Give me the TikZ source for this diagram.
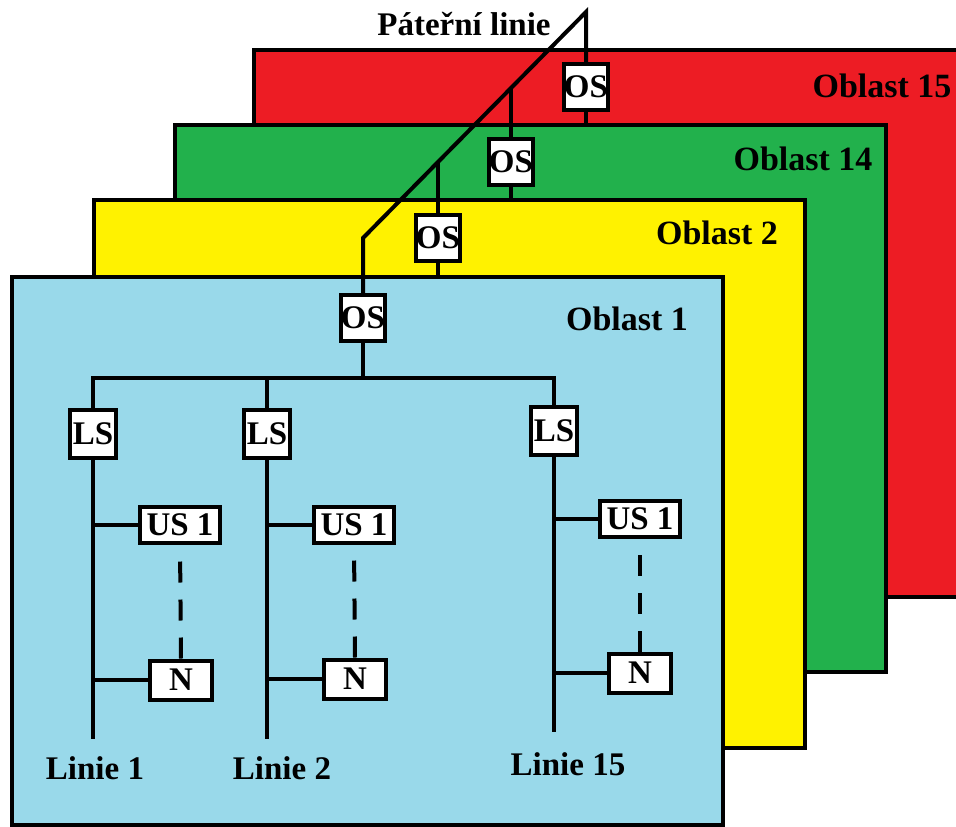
\documentclass[tikz,border=0pt]{standalone}
\usepackage{fontspec}
\setmainfont{Liberation Serif}
\definecolor{ared}{RGB}{237,28,36}
\definecolor{agreen}{RGB}{34,177,76}
\definecolor{ayellow}{RGB}{255,242,0}
\definecolor{ablue}{RGB}{153,217,234}
\begin{document}
\begin{tikzpicture}[x=1pt,y=-1pt,line width=4pt,line join=miter,
  box/.style={draw,fill=white,inner sep=0pt,font=\fontsize{33}{36}\selectfont\bfseries},
  os/.style={box,minimum width=44pt,minimum height=46pt},
  ls/.style={box,minimum width=46pt,minimum height=48pt},
  us/.style={box,minimum width=80pt,minimum height=36pt},
  nn/.style={box,minimum width=62pt,minimum height=39pt},
  lbl/.style={font=\fontsize{33}{36}\selectfont\bfseries,inner sep=0pt,anchor=base},
  olbl/.style={font=\fontsize{34}{36}\selectfont\bfseries,inner sep=0pt,anchor=base},
  area/.style={draw,line width=4pt},
  dashline/.style={dash pattern=on 21pt off 17pt}]
\useasboundingbox (0,0) rectangle (956,827);
\clip (0,0) rectangle (956,827);
\fill[white] (0,0) rectangle (956,827);
% areas
\path[area,fill=ared] (254,50) rectangle (990,597);
\path[area,fill=agreen] (175,125) rectangle (886,672);
\path[area,fill=ayellow] (94,200) rectangle (805,748);
\path[area,fill=ablue] (12,277) rectangle (723,825);
\coordinate (gtop) at (175,125);
\coordinate (ytop) at (94,200);
\coordinate (btop) at (12,277);
% area labels
\node[olbl] (o15) at (882,97) {Oblast 15};
\node[olbl] (o14) at (803,170) {Oblast 14};
\node[olbl] (o2) at (717,244) {Oblast 2};
\node[olbl] (o1) at (627,330) {Oblast 1};
\node[lbl] (pat) at (464,35) {Páteřní linie};
% area couplers
\node[os] (osR) at (586,87) {OS};
\node[os] (osG) at (511,162) {OS};
\node[os] (osY) at (438,238) {OS};
\node[os] (osB) at (363,318) {OS};
% backbone
\coordinate (top) at (586,12);
\coordinate (bend) at (363,238);
\coordinate (j14) at (511,88);
\coordinate (j2) at (438,162);
\draw (osB.north) -- (bend) -- (top) -- (osR.north);
\draw (j14) -- (osG.north);
\draw (j2) -- (osY.north);
\draw (osR.south) -- (osR.south |- gtop);
\draw (osG.south) -- (osG.south |- ytop);
\draw (osY.south) -- (osY.south |- btop);
% line couplers
\node[ls] (ls1) at (93,434) {LS};
\node[ls] (ls2) at (267,434) {LS};
\node[ls] (ls3) at (554,431) {LS};
\coordinate (bus) at (363,378);
\draw (ls1.north) |- (bus) -| (ls3.north);
\draw (osB.south) -- (bus);
\draw (ls2.north) -- (ls2.north |- bus);
% devices
\node[us] (us1) at (180,525) {US 1};
\node[us] (us2) at (354,525) {US 1};
\node[us] (us3) at (640,519) {US 1};
\node[nn] (n1) at (181,680) {N};
\node[nn] (n2) at (355,679) {N};
\node[nn] (n3) at (640,673) {N};
\coordinate (e1) at (93,739);
\coordinate (e2) at (267,739);
\coordinate (e3) at (554,732);
\draw (ls1.south) -- (e1);
\draw (ls2.south) -- (e2);
\draw (ls3.south) -- (e3);
\draw (us1.west) -- (us1.west -| e1);
\draw (us2.west) -- (us2.west -| e2);
\draw (us3.west) -- (us3.west -| e3);
\draw (n1.west) -- (n1.west -| e1);
\draw (n2.west) -- (n2.west -| e2);
\draw (n3.west) -- (n3.west -| e3);
\draw[dashline] (n1.north) -- (us1.south);
\draw[dashline] (n2.north) -- (us2.south);
\draw[dashline] (n3.north) -- (us3.south);
% line labels
\node[lbl] (l1) at (95,779) {Linie 1};
\node[lbl] (l2) at (282,779) {Linie 2};
\node[lbl] (l15) at (568,775) {Linie 15};
\end{tikzpicture}
\end{document}
